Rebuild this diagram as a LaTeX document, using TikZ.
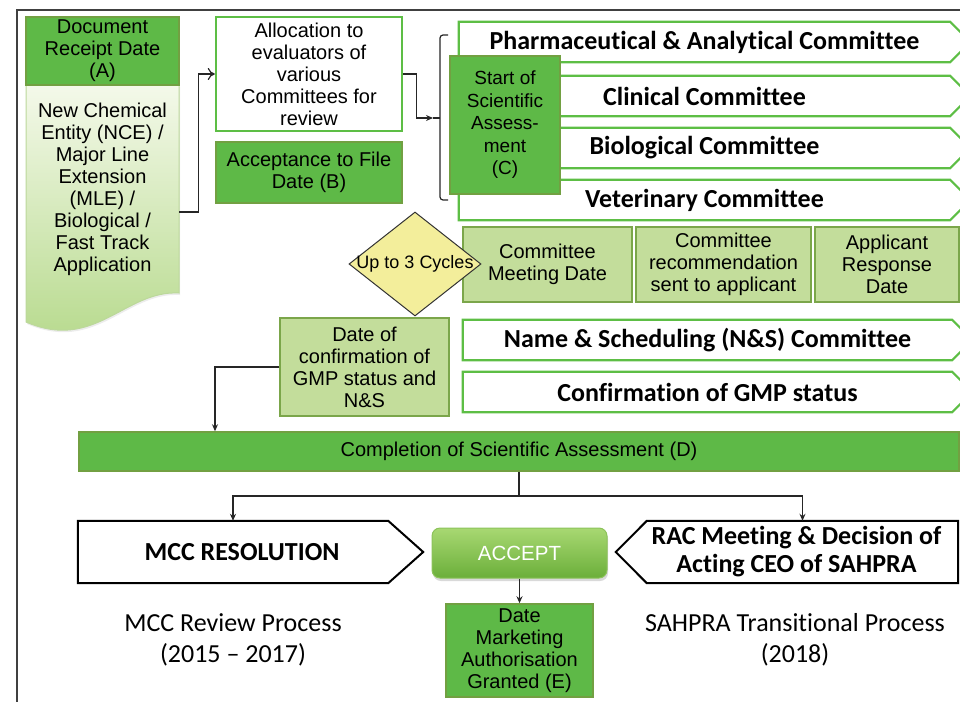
\documentclass[tikz,border=0pt]{standalone}
\usepackage{fontspec}
\setmainfont{Liberation Sans}
\newfontfamily\calibri[Ligatures=NoCommon]{Carlito}
\usetikzlibrary{arrows.meta,shapes.geometric,shadows}

\definecolor{accgreen}{HTML}{5EB947}
\definecolor{accedge}{HTML}{72A042}
\definecolor{stagegreen}{HTML}{C3DD9B}
\definecolor{stageedge}{HTML}{7BA64A}
\definecolor{barline}{HTML}{5DBE45}
\definecolor{diamfill}{HTML}{F3EE9B}
\definecolor{doctop}{HTML}{F4F9EA}
\definecolor{docbottom}{HTML}{B5D98A}
\definecolor{docedge}{HTML}{BCD89B}
\definecolor{oktop}{HTML}{A8D872}
\definecolor{okbottom}{HTML}{6BAF3A}
\definecolor{okedge}{HTML}{8CC35A}

\newcommand{\boxfont}{\fontsize{20}{22}\selectfont}
\newcommand{\barfont}{\calibri\bfseries\fontsize{26}{28}\selectfont}

\begin{document}
\begin{tikzpicture}[x=1pt,y=-1pt,>={Stealth[length=7pt,width=6pt]}]
    \tikzstyle{datebox}=[draw=accedge, fill=accgreen, line width=1.5pt, align=center, inner sep=0pt, font=\boxfont]
    \tikzstyle{stagebox}=[datebox, draw=stageedge, fill=stagegreen]
    \tikzstyle{committee}=[minimum height=40pt, inner sep=0pt, font=\barfont]
    \tikzstyle{barshape}=[draw=barline, line width=2.2pt]
    \tikzstyle{outcome}=[minimum height=62pt, inner sep=0pt]
    \tikzstyle{link}=[line width=1.2pt, draw=black!85]

    \useasboundingbox (0,0) rectangle (960,701);
    % outer frame
    \draw[line width=1.5pt, black!75] (17,705) -- (17,10) -- (965,10);

    % application document with wavy bottom
    \path[draw=docedge, line width=1pt, top color=doctop, bottom color=docbottom,
        drop shadow={shadow xshift=1pt, shadow yshift=-2pt, opacity=0.15}]
        (26,85) -- (179,85) -- (179,293) .. controls (125,290) and (95,352) .. (26,322) -- cycle;
    \node[minimum width=153pt, minimum height=208pt, align=center, inner sep=0pt, font=\boxfont] (docapp) at (102.5,189)
        {New Chemical\\ Entity (NCE) /\\ Major Line\\ Extension\\ (MLE) /\\ Biological /\\ Fast Track\\ Application};
    \node[datebox, minimum width=153pt, minimum height=68pt] (docA) at (102.5,51) {Document\\ Receipt Date\\ (A)};

    \node[datebox, fill=white, draw=barline, line width=2.5pt, minimum width=186pt, minimum height=114pt] (alloc) at (309,74)
        {Allocation to\\ evaluators of\\ various\\ Committees for\\ review};
    \node[datebox, minimum width=186pt, minimum height=61pt] (fileB) at (309,172.5) {Acceptance to File\\ Date (B)};

    % committees
    \node[committee, minimum width=491pt] (pharm) at (704.5,42) {Pharmaceutical \& Analytical Committee};
    \node[committee, minimum width=491pt] (clin) at (704.5,96) {Clinical Committee};
    \node[committee, minimum width=491pt] (bio) at (704.5,148) {Biological Committee};
    \node[committee, minimum width=491pt] (vet) at (704.5,200) {Veterinary Committee};
    \node[committee, minimum width=489pt] (nands) at (707.5,340) {Name \& Scheduling (N\&S) Committee};
    \node[committee, minimum width=489pt] (gmp) at (707.5,392) {Confirmation of GMP status};
    \foreach \b in {pharm,clin,bio,vet,nands,gmp}
        \draw[barshape] (\b.north west) -- (\b.north east) -- ([xshift=20pt]\b.east) -- (\b.south east) -- (\b.south west) -- cycle;

    \node[datebox, font=\fontsize{19}{22.5}\selectfont, minimum width=110pt, minimum height=138pt] (startC) at (505,125)
        {Start of\\ Scientific\\ Assess-\\ ment\\ (C)};

    % bracket in front of the committees
    \coordinate (brace) at (433,118);
    \draw[link, rounded corners=3pt] (448,35) -- (440,35) -- (440,200) -- (448,200);
    \draw[link] (440,118) -- (brace);

    % review cycle
    \node[stagebox, minimum width=169pt, minimum height=75pt] (meet) at (547.5,264.5) {Committee\\ Meeting Date};
    \node[stagebox, minimum width=175pt, minimum height=75pt] (recom) at (723.5,264.5) {Committee\\ recommendation\\ sent to applicant};
    \node[stagebox, minimum width=144pt, minimum height=75pt] (resp) at (887,264.5) {Applicant\\ Response\\ Date};
    \node[diamond, draw=black!80, fill=diamfill, line width=1pt, minimum width=132pt, minimum height=104pt, inner sep=0pt] (cycles) at (415,264) {};
    \node[font=\fontsize{18}{20}\selectfont, inner sep=0pt] (cyclelab) at (cycles.center) {Up to 3 Cycles};

    \node[stagebox, minimum width=169pt, minimum height=98pt] (datecf) at (364.5,367)
        {Date of\\ confirmation of\\ GMP status and\\ N\&S};

    \node[datebox, minimum width=880pt, minimum height=39pt] (complete) at (519,451.5) {Completion of Scientific Assessment (D)};

    % outcomes
    \node[outcome, minimum width=310pt] (mcc) at (233,552) {};
    \draw[draw=black, line width=2pt] (mcc.north west) -- (mcc.north east) -- ([xshift=35pt]mcc.east) -- (mcc.south east) -- (mcc.south west) -- cycle;
    \node[font=\barfont] (mcclab) at ([xshift=9pt]mcc.center) {MCC RESOLUTION};

    \node[outcome, minimum width=311pt] (rac) at (802.5,552) {};
    \draw[draw=black, line width=2pt] (rac.north east) -- (rac.north west) -- ([xshift=-31pt]rac.west) -- (rac.south west) -- (rac.south east) -- cycle;
    \node[font=\barfont, align=center] (raclab) at ([xshift=-6pt]rac.center) {RAC Meeting \& Decision of\\ Acting CEO of SAHPRA};

    \node[draw=okedge, line width=1pt, top color=oktop, bottom color=okbottom, rounded corners=8pt,
        minimum width=175pt, minimum height=50pt, text=white, font=\fontsize{20.5}{24}\selectfont,
        drop shadow={shadow xshift=1pt, shadow yshift=-3pt, opacity=0.3}] (ok) at (519.5,553) {ACCEPT};
    \node[datebox, minimum width=147pt, minimum height=93pt] (dateE) at (519.5,650.5)
        {Date\\ Marketing\\ Authorisation\\ Granted (E)};

    \node[font=\calibri\fontsize{26}{31}\selectfont, align=center] (mccproc) at (233,640) {MCC Review Process\\ (2015 – 2017)};
    \node[font=\calibri\fontsize{26}{31}\selectfont, align=center] (sahproc) at (795,640) {SAHPRA Transitional Process\\ (2018)};

    % connectors
    \draw[link, -{To[length=7pt,width=12pt]}] ([yshift=-23pt]docapp.east) -- ++(19,0) |- (alloc.west);
    \draw[link, ->] (alloc.east) -- ++(13,0) |- (brace);

    \coordinate (gmpdrop) at (215,367);
    \draw[link, ->] (datecf.west) -- (gmpdrop) -- (gmpdrop |- complete.north);

    \coordinate (split) at (519,496);
    \draw[link] (complete.south) -- (split);
    \draw[link, ->] (split) -| (mcc.north);
    \draw[link, ->] (split) -| (rac.north);
    \draw[link, ->] (ok.south) -- (dateE.north);
\end{tikzpicture}
\end{document}
